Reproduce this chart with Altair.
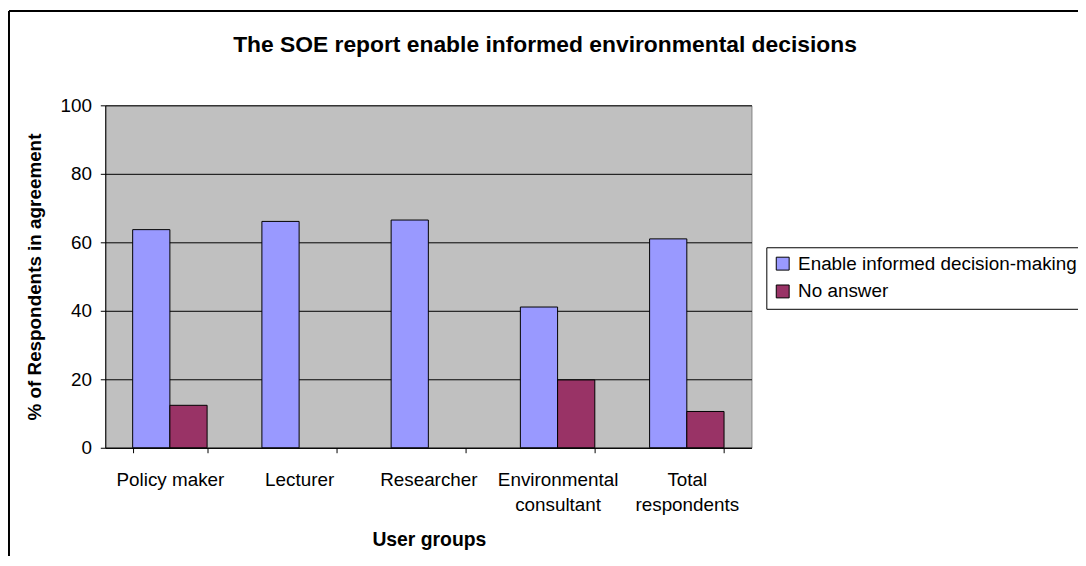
import altair as alt
import pandas as pd

groups = ["Policy maker", "Lecturer", "Researcher", "Environmental consultant", "Total respondents"]
series = ["Enable informed decision-making", "No answer"]
enable_vals = [63.7, 66.1, 66.5, 41.1, 61.0]
no_answer_vals = [12.4, 0.0, 0.0, 19.8, 10.6]
y_ticks = [0, 20, 40, 60, 80, 100]
colors = ["#9999FF", "#993366"]

rows = []
for g, e, n in zip(groups, enable_vals, no_answer_vals):
    rows.append({"group": g, "series": series[0], "value": e})
    rows.append({"group": g, "series": series[1], "value": n})
df = pd.DataFrame(rows)

FONT = "Liberation Sans"

label_expr = ("datum.label == 'Environmental consultant' ? ['Environmental', 'consultant'] : "
              "datum.label == 'Total respondents' ? ['Total', 'respondents'] : datum.label")

bars = alt.Chart(df).transform_filter("datum.value > 0").mark_bar(stroke="black", strokeWidth=1).encode(
    x=alt.X(
        "group:N", sort=groups,
        scale=alt.Scale(domain=groups, paddingInner=0.424, paddingOuter=0.212),
        axis=alt.Axis(
            title="User groups", labelExpr=label_expr, labelAngle=0,
            labelFontSize=19, labelFont=FONT, labelColor="black", labelLineHeight=25,
            labelPadding=18, tickSize=5, tickBand="extent", tickColor="black",
            domainColor="black", grid=False, labelLimit=300,
            titleFont=FONT, titleFontSize=19.5, titleFontWeight="bold", titleColor="black",
            titleX=326, titleY=83, titleBaseline="top",
        ),
    ),
    xOffset=alt.XOffset("series:N", sort=series,
                        scale=alt.Scale(domain=series, paddingInner=0, paddingOuter=0)),
    y=alt.Y(
        "value:Q",
        scale=alt.Scale(domain=[0, 100], nice=False),
        axis=alt.Axis(
            values=y_ticks, title="% of Respondents in agreement",
            labelFontSize=19, labelFont=FONT, labelColor="black", labelPadding=9,
            tickSize=5, tickColor="black", domainColor="black",
            grid=True, gridColor="black", gridWidth=1,
            titleFont=FONT, titleFontSize=19, titleFontWeight="bold", titleColor="black",
            titleX=-65, titleY=172.5, titleBaseline="alphabetic",
        ),
    ),
    color=alt.Color(
        "series:N", sort=series,
        scale=alt.Scale(domain=series, range=colors),
        legend=alt.Legend(
            title=None, orient="none", legendX=666, legendY=143,
            symbolType="square", symbolSize=169, symbolStrokeColor="black",
            symbolStrokeWidth=1, symbolOpacity=1,
            labelFontSize=19, labelFont=FONT, labelColor="black", labelLimit=400,
            labelOffset=6, padding=7, rowPadding=8,
            strokeColor="black", fillColor="white", cornerRadius=0,
        ),
    ),
)

border_df = pd.DataFrame({"k": [0]})
left_border = alt.Chart(border_df).mark_rule(color="black", strokeWidth=2).encode(
    x=alt.value(-97), y=alt.value(-95), y2=alt.value(454)
)
top_border = alt.Chart(border_df).mark_rule(color="black", strokeWidth=2).encode(
    x=alt.value(-97), x2=alt.value(980), y=alt.value(-95)
)

chart = alt.layer(bars, left_border, top_border).properties(
    width=651,
    height=345,
    autosize=alt.AutoSizeParams(type="none"),
    padding={"left": 98, "top": 96, "right": 329, "bottom": 109},
    background="white",
    title=alt.TitleParams(
        text="The SOE report enable informed environmental decisions",
        font=FONT, fontSize=23, fontWeight="bold", color="black",
        anchor="middle", frame="group", dx=117.5, offset=-47,
    ),
).configure_view(
    stroke="#808080", strokeWidth=1, fill="#C0C0C0"
)

chart.save("out.html", embed_options={"renderer": "svg", "actions": False})
